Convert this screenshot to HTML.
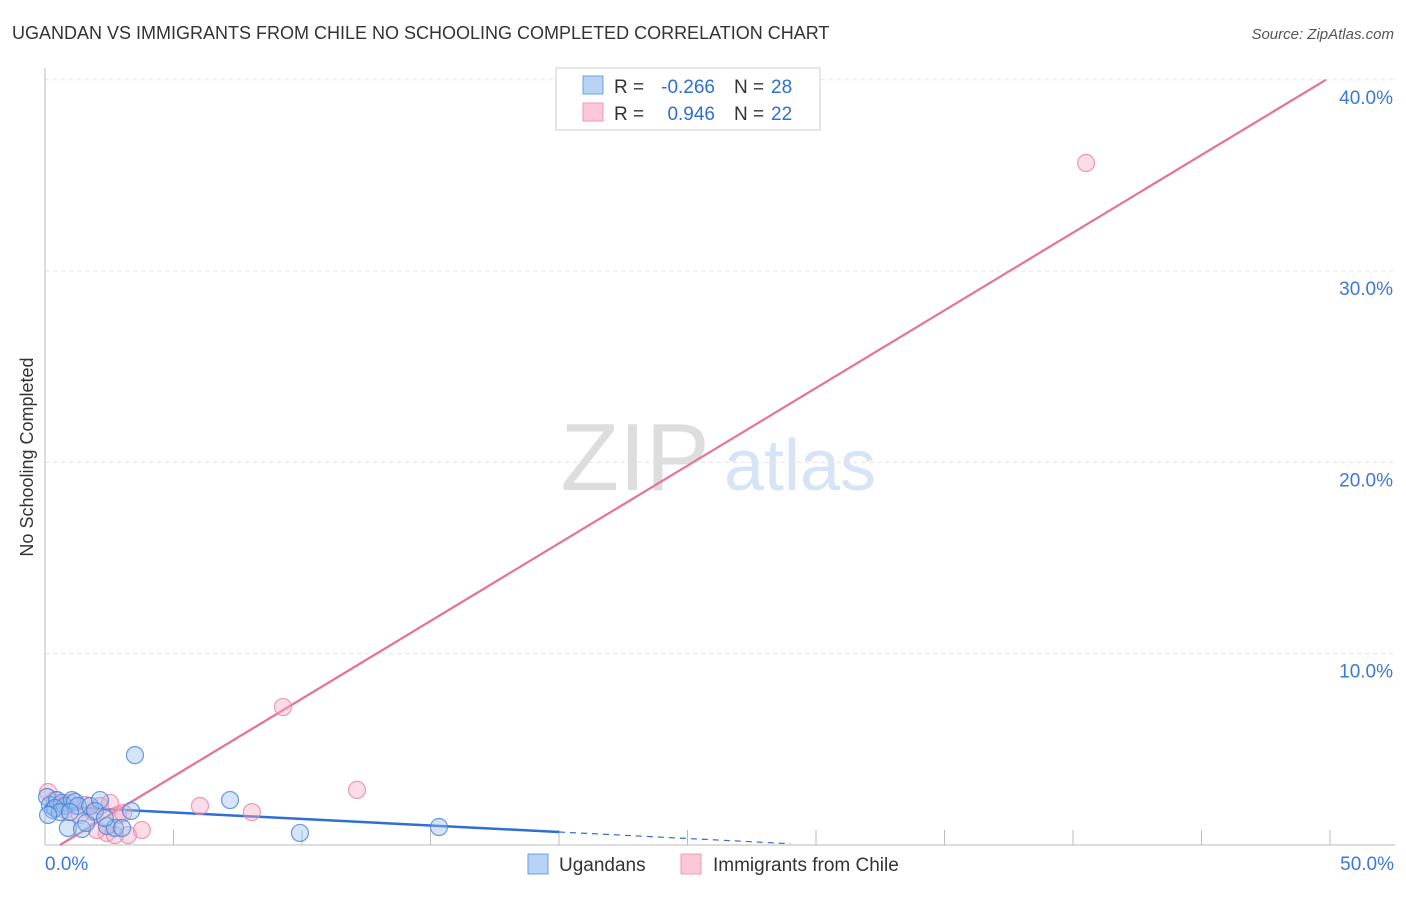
<!DOCTYPE html>
<html><head><meta charset="utf-8"><style>
body{margin:0;background:#fff;font-family:"Liberation Sans",sans-serif;}
svg text{font-family:"Liberation Sans",sans-serif;}
</style></head><body>
<svg id="c" width="1406" height="892">
<text x="12" y="39" font-size="18" fill="#333">UGANDAN VS IMMIGRANTS FROM CHILE NO SCHOOLING COMPLETED CORRELATION CHART</text>
<text x="1394" y="39" font-size="15" fill="#555" font-style="italic" text-anchor="end">Source: ZipAtlas.com</text>
<text transform="translate(33,457) rotate(-90)" font-size="18" fill="#333" text-anchor="middle">No Schooling Completed</text>
<g><text x="635" y="490" font-size="96" fill="#ddd" font-family="Liberation Serif" text-anchor="middle">ZIP</text><text x="800" y="490" font-size="72" fill="#d6e4f5" text-anchor="middle">atlas</text></g>
<g id="grid"></g><g id="axes"></g><g id="lines"></g><g id="pts"></g>
<g>
<rect x="556" y="68" width="264" height="62" fill="#fff" stroke="#ccc"/>
<rect x="583" y="76" width="20" height="18" fill="#b8d3f5" stroke="#6a9fe0"/>
<rect x="583" y="103" width="20" height="18" fill="#fbc8d8" stroke="#f099b5"/>
<text x="614" y="93" font-size="19" fill="#333">R =</text>
<text x="715" y="93" font-size="19" fill="#2e6fd4" text-anchor="end">-0.266</text>
<text x="734" y="93" font-size="19" fill="#333">N =</text>
<text x="771" y="93" font-size="19" fill="#2e6fd4">28</text>
<text x="614" y="120" font-size="19" fill="#333">R =</text>
<text x="715" y="120" font-size="19" fill="#2e6fd4" text-anchor="end">0.946</text>
<text x="734" y="120" font-size="19" fill="#333">N =</text>
<text x="771" y="120" font-size="19" fill="#2e6fd4">22</text>
</g>
<g>
<rect x="528" y="854" width="20" height="20" fill="#b8d3f5" stroke="#6a9fe0"/>
<text x="559" y="871" font-size="19" fill="#333">Ugandans</text>
<rect x="681" y="854" width="20" height="20" fill="#fbc8d8" stroke="#f099b5"/>
<text x="713" y="871" font-size="19" fill="#333">Immigrants from Chile</text>
</g>
</svg>
<script>
const blueX=[0.08,0.19,0.31,0.47,0.66,0.78,0.89,1.05,1.17,1.28,1.44,1.60,1.75,2.14,2.41,2.72,3.00,3.35,3.50,7.20,9.92,15.33,0.39,0.58,0.97,1.95,2.33,0.12];
const blueY=[2.51,2.09,1.83,2.35,2.20,2.04,0.89,2.35,2.25,2.04,0.84,1.15,2.04,2.35,0.99,0.89,0.89,1.78,4.70,2.35,0.63,0.94,1.93,1.72,1.72,1.78,1.41,1.57];
const pinkX=[0.12,0.39,0.66,0.97,1.56,1.87,2.14,2.53,2.84,3.04,2.41,3.23,3.77,6.03,8.05,9.26,12.14,40.51,0.78,1.36,2.72,2.02];
const pinkY=[2.77,2.35,2.09,2.20,2.09,1.72,2.04,2.20,1.57,1.67,0.63,0.52,0.78,2.04,1.72,7.21,2.88,35.65,1.83,1.57,0.52,0.78];
const yTicks=[10,20,30,40];
const xTickLabels=["0.0%","50.0%"];
const blueFit=[2.04,-0.068];
const pinkFit=[-0.47,0.812];
const NS="http://www.w3.org/2000/svg";
const X=v=>45+v/50*1285, Y=v=>845-v*19.13;
function mk(p,t,a){const e=document.createElementNS(NS,t);for(const k in a)e.setAttribute(k,a[k]);document.getElementById(p).appendChild(e);return e;}
yTicks.forEach(t=>{
 const g=mk('grid','line',{x1:45,x2:1395,y1:Y(t),y2:Y(t),stroke:'#e3e3e3','stroke-dasharray':'4,4'});
 
 
 const l=mk('grid','text',{x:1393,y:Y(t)+24,'font-size':19,fill:'#3b78d8','text-anchor':'end'});
 l.textContent=t.toFixed(1)+'%';
 
 
});
const ax=mk('axes','line',{x1:45,x2:45,y1:68,y2:845,stroke:'#bbb'});


const bx=mk('axes','line',{x1:45,x2:1395,y1:845,y2:845,stroke:'#bbb'});


for(let v=5;v<=50;v+=5){const t=mk('axes','line',{x1:X(v),x2:X(v),y1:830,y2:845,stroke:'#bbb'});
 
 }
[[0,'start',45],[50,'end',1394]].forEach((d,i)=>{const t=mk('axes','text',{x:d[2],y:870,'font-size':19,fill:'#3b78d8','text-anchor':d[1]});t.textContent=xTickLabels[i];
 
 });
const bl=mk('lines','line',{x1:X(0),y1:Y(blueFit[0]),x2:X(20),y2:Y(blueFit[0]+blueFit[1]*20),stroke:'#2e6fd4','stroke-width':2.5});


const bd=mk('lines','line',{x1:X(20),y1:Y(blueFit[0]+blueFit[1]*20),x2:X(29),y2:Y(blueFit[0]+blueFit[1]*29),stroke:'#2e6fd4','stroke-width':1.2,'stroke-dasharray':'6,5'});


const x0=-pinkFit[0]/pinkFit[1], x1=(40-pinkFit[0])/pinkFit[1];
const pl=mk('lines','line',{x1:X(x0),y1:Y(0),x2:X(x1),y2:Y(40),stroke:'#e8709a','stroke-width':2.2});


pinkX.forEach((x,i)=>{const c=mk('pts','circle',{cx:X(x),cy:Y(pinkY[i]),r:8.5,fill:'rgba(248,170,195,0.4)',stroke:'rgba(235,130,165,0.8)','stroke-width':1.2});
 
 });
blueX.forEach((x,i)=>{const c=mk('pts','circle',{cx:X(x),cy:Y(blueY[i]),r:8.5,fill:'rgba(150,190,240,0.4)',stroke:'rgba(70,130,215,0.8)','stroke-width':1.2});
 
 });
</script>
</body></html>
